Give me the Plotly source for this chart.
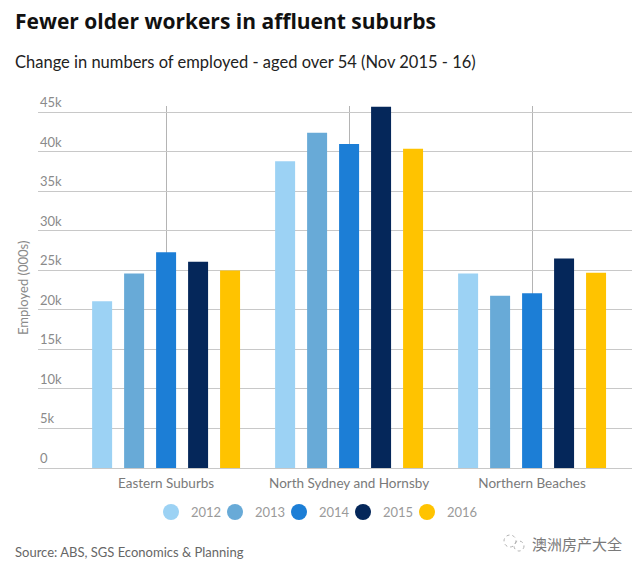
import plotly.graph_objects as go

categories = ["Eastern Suburbs", "North Sydney and Hornsby", "Northern Beaches"]
years = ["2012", "2013", "2014", "2015", "2016"]
values = {
    "2012": [21.1, 38.8, 24.6],
    "2013": [24.6, 42.4, 21.8],
    "2014": [27.3, 41.0, 22.1],
    "2015": [26.1, 45.7, 26.5],
    "2016": [25.0, 40.4, 24.7],
}
colors = {
    "2012": "#9cd2f4",
    "2013": "#68aad7",
    "2014": "#1c7ed6",
    "2015": "#05275a",
    "2016": "#ffc300",
}
y_ticks = [0, 5, 10, 15, 20, 25, 30, 35, 40, 45]
y_ticklabels = ["0", "5k", "10k", "15k", "20k", "25k", "30k", "35k", "40k", "45k"]

FONT = "Lato"
OFF = 8  # page body margin
W, H = 644 - OFF, 571 - OFF
L, R, T, B = 38 - OFF, 12, 106 - OFF, 103
pw, ph = W - L - R, H - T - B


def px(x):  # page x pixel -> paper
    return (x - 38) / pw


def py(y):  # page y pixel -> paper
    return (468 - y) / ph


fig = go.Figure()
for yr in years:
    fig.add_trace(go.Bar(
        x=categories, y=values[yr], name=yr,
        marker=dict(color=colors[yr], line=dict(width=0)),
        showlegend=False,
    ))

annotations = [
    dict(text="<b>Fewer older workers in affluent suburbs</b>", xref="paper", yref="paper",
         x=px(13), y=py(21), xanchor="left", yanchor="middle", showarrow=False,
         font=dict(size=21, color="#111111", family="Open Sans")),
    dict(text="Change in numbers of employed - aged over 54 (Nov 2015 - 16)", xref="paper", yref="paper",
         x=px(13), y=py(62), xanchor="left", yanchor="middle", showarrow=False,
         font=dict(size=16.5, color="#222222", family=FONT)),
    dict(text="Employed (000s)", xref="paper", yref="paper",
         x=px(23), y=py(288), xanchor="center", yanchor="middle", showarrow=False,
         textangle=-90, font=dict(size=13, color="#8a8a8a", family=FONT)),
    dict(text="Source: ABS, SGS Economics & Planning", xref="paper", yref="paper",
         x=px(13), y=py(552), xanchor="left", yanchor="middle", showarrow=False,
         font=dict(size=13, color="#666666", family=FONT)),
    dict(text="澳洲房产大全", xref="paper", yref="paper",
         x=px(624), y=py(543), xanchor="right", yanchor="middle", showarrow=False,
         font=dict(size=15, color="#7a7a7a", family="Noto Sans CJK SC")),
]

# y tick labels sitting above gridlines
for v, lab in zip(y_ticks, y_ticklabels):
    annotations.append(dict(
        text=lab, xref="paper", yref="y", x=0, y=v, xanchor="left", yanchor="bottom",
        showarrow=False, yshift=0, font=dict(size=13, color="#8a8a8a", family=FONT),
    ))

# custom legend with round markers
shapes = []
leg_x0, leg_step, leg_y, rad = 171, 64, 512, 8
for i, yr in enumerate(years):
    cx = leg_x0 + i * leg_step
    shapes.append(dict(
        type="circle", xref="paper", yref="paper",
        x0=px(cx - rad), x1=px(cx + rad), y0=py(leg_y + rad), y1=py(leg_y - rad),
        fillcolor=colors[yr], line=dict(width=0),
    ))
    annotations.append(dict(
        text=yr, xref="paper", yref="paper", x=px(cx + 18), y=py(leg_y),
        xanchor="left", yanchor="middle", showarrow=False,
        font=dict(size=13, color="#9a9a9a", family=FONT),
    ))

# small watermark icon (two outlined bubbles)
for (cx, cy, r) in [(510, 541, 6), (519, 546, 5)]:
    shapes.append(dict(
        type="circle", xref="paper", yref="paper",
        x0=px(cx - r), x1=px(cx + r), y0=py(cy + r), y1=py(cy - r),
        fillcolor="rgba(0,0,0,0)", line=dict(width=1, color="#b0b0b0", dash="dot"),
    ))

fig.update_layout(
    width=W, height=H,
    margin=dict(l=L, r=R, t=T, b=B),
    plot_bgcolor="white", paper_bgcolor="white",
    barmode="group", bargap=0.126, bargroupgap=0.375,
    font=dict(family=FONT, color="#888888", size=13),
    showlegend=False,
    xaxis=dict(
        type="category", categoryorder="array", categoryarray=categories,
        range=[-0.70, 2.546], showgrid=True, gridcolor="#b4b4b4", gridwidth=1,
        showline=False, ticks="", zeroline=False, ticklabelstandoff=5,
        tickfont=dict(size=13.5, color="#7a7a7a", family=FONT),
    ),
    yaxis=dict(
        range=[0, 45.8], tickvals=y_ticks, showticklabels=False,
        showgrid=True, gridcolor="#c8c8c8",
        gridwidth=1, zeroline=True, zerolinecolor="#c8c8c8", zerolinewidth=1,
        showline=False, ticks="",
    ),
    annotations=annotations,
    shapes=shapes,
)

fig.write_html("out.html")
